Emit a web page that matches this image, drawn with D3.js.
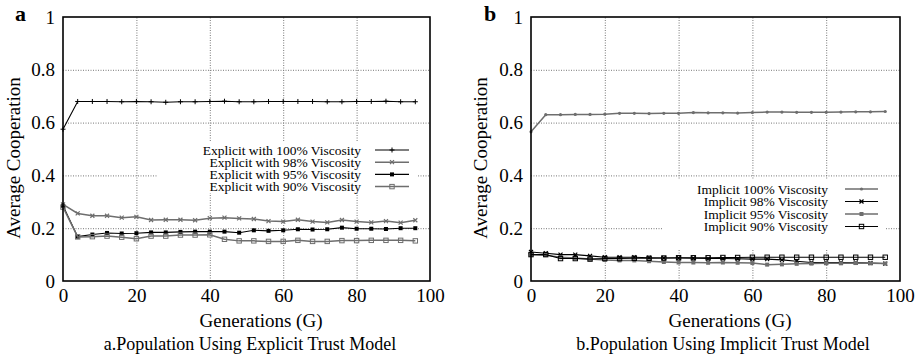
<!DOCTYPE html>
<html>
<head>
<meta charset="utf-8">
<script src="https://cdn.jsdelivr.net/npm/d3@7/dist/d3.min.js"></script>
<style>
  body { margin: 0; background: #fff; }
  svg text { font-family: "Liberation Serif", Tinos, "Times New Roman", Times, "DejaVu Serif", serif; }
</style>
</head>
<body>
<svg id="chart" width="918" height="359"></svg>
<script>
const generations = [0,4,8,12,16,20,24,28,32,36,40,44,48,52,56,60,64,68,72,76,80,84,88,92,96];
const xTicks = [0,20,40,60,80,100];
const yTicks = [0,0.2,0.4,0.6,0.8,1];
const yTickLabels = ["0","0.2","0.4","0.6","0.8","1"];

const explicitNames = ["Explicit with 100% Viscosity","Explicit with 98% Viscosity","Explicit with 95% Viscosity","Explicit with 90% Viscosity"];
const explicit100 = [0.575,0.68,0.68,0.68,0.679,0.68,0.679,0.677,0.679,0.679,0.68,0.681,0.679,0.679,0.68,0.68,0.68,0.68,0.679,0.679,0.68,0.68,0.681,0.679,0.679];
const explicit98 = [0.29,0.256,0.247,0.247,0.24,0.243,0.231,0.232,0.232,0.23,0.238,0.24,0.237,0.235,0.227,0.225,0.232,0.225,0.222,0.231,0.225,0.222,0.227,0.221,0.23];
const explicit95 = [0.285,0.168,0.176,0.182,0.18,0.181,0.184,0.184,0.186,0.187,0.187,0.187,0.183,0.192,0.19,0.192,0.196,0.195,0.196,0.202,0.198,0.198,0.197,0.2,0.2];
const explicit90 = [0.28,0.167,0.168,0.17,0.166,0.16,0.17,0.17,0.174,0.174,0.175,0.158,0.152,0.152,0.15,0.15,0.154,0.15,0.15,0.153,0.153,0.154,0.154,0.154,0.152];

const implicitNames = ["Implicit 100% Viscosity","Implicit 98% Viscosity","Implicit 95% Viscosity","Implicit 90% Viscosity"];
const implicit100 = [0.565,0.63,0.63,0.631,0.631,0.632,0.635,0.635,0.634,0.635,0.635,0.638,0.637,0.637,0.636,0.638,0.64,0.64,0.639,0.639,0.639,0.64,0.641,0.641,0.642];
const implicit98 = [0.11,0.105,0.1,0.1,0.095,0.09,0.09,0.09,0.088,0.087,0.087,0.086,0.085,0.085,0.084,0.083,0.083,0.08,0.075,0.07,0.07,0.07,0.07,0.068,0.066];
const implicit95 = [0.1,0.098,0.09,0.087,0.083,0.08,0.078,0.078,0.075,0.072,0.07,0.07,0.069,0.07,0.069,0.068,0.062,0.063,0.065,0.066,0.067,0.067,0.068,0.067,0.066];
const implicit90 = [0.1,0.1,0.085,0.085,0.083,0.085,0.085,0.086,0.086,0.087,0.088,0.088,0.088,0.089,0.089,0.09,0.09,0.09,0.09,0.09,0.09,0.09,0.09,0.09,0.09];

const BLACK = "#000", GRAY = "#6e6e6e";
const FONT = '"Liberation Serif", Tinos, "Times New Roman", Times, "DejaVu Serif", serif';

const svg = d3.select("#chart");

function marker(g, type, x, y, color) {
  if (type === "plus") {
    g.append("path").attr("d", `M${x-2.5},${y}H${x+2.5}M${x},${y-2.5}V${y+2.5}`)
      .attr("stroke", color).attr("stroke-width", 1);
  } else if (type === "cross") {
    g.append("path").attr("d", `M${x-2},${y-2}L${x+2},${y+2}M${x-2},${y+2}L${x+2},${y-2}`)
      .attr("stroke", color).attr("stroke-width", 1.2);
  } else if (type === "fsquare") {
    g.append("rect").attr("x", x-2).attr("y", y-2).attr("width", 4).attr("height", 4).attr("fill", color);
  } else if (type === "osquare") {
    g.append("rect").attr("x", x-2.2).attr("y", y-2.2).attr("width", 4.4).attr("height", 4.4)
      .attr("fill", "none").attr("stroke", color).attr("stroke-width", 1);
  } else if (type === "dot") {
    g.append("circle").attr("cx", x).attr("cy", y).attr("r", 1.6).attr("fill", color);
  }
}

function drawPanel(cfg) {
  const x = d3.scaleLinear().domain([0, 100]).range([cfg.left, cfg.right]);
  const y = d3.scaleLinear().domain([0, 1]).range([281, 17]);
  const g = svg.append("g");

  // grid
  g.append("g").call(d3.axisBottom(x).tickValues(xTicks.slice(1, -1)).tickSize(-(281 - 17)).tickFormat(""))
    .attr("transform", "translate(0,281)")
    .call(s => s.select(".domain").remove())
    .call(s => s.selectAll("line").attr("stroke", "#777").attr("stroke-dasharray", "1,1.5"));
  g.append("g").call(d3.axisLeft(y).tickValues(yTicks.slice(1, -1)).tickSize(-(cfg.right - cfg.left)).tickFormat(""))
    .attr("transform", `translate(${cfg.left},0)`)
    .call(s => s.select(".domain").remove())
    .call(s => s.selectAll("line").attr("stroke", "#777").attr("stroke-dasharray", "1,1.5"));

  // key box hides the grid behind it
  const L = cfg.legend;
  g.append("rect").attr("x", L.box[0]).attr("y", L.box[1]).attr("width", L.box[2]).attr("height", L.box[3]).attr("fill", "#fff");

  // tick labels
  g.append("g").attr("transform", "translate(0,281)")
    .call(d3.axisBottom(x).tickValues(xTicks).tickSize(0).tickPadding(8))
    .attr("font-family", FONT)
    .call(s => s.select(".domain").remove())
    .call(s => s.selectAll("text").attr("font-size", 19).attr("fill", "#000"));
  g.append("g").attr("transform", `translate(${cfg.left},0)`)
    .call(d3.axisLeft(y).tickValues(yTicks).tickSize(0).tickPadding(8).tickFormat((d, i) => yTickLabels[i]))
    .attr("font-family", FONT)
    .call(s => s.select(".domain").remove())
    .call(s => s.selectAll("text").attr("font-size", 19).attr("fill", "#000"));

  // series
  const line = d3.line().x((d, i) => x(generations[i])).y(d => y(d));
  cfg.series.forEach(s => {
    g.append("path").datum(s.values).attr("d", line).attr("fill", "none")
      .attr("stroke", s.color).attr("stroke-width", s.color === GRAY ? 1.5 : 1.1);
    const mg = g.append("g");
    s.values.forEach((v, i) => marker(mg, s.marker, x(generations[i]), y(v), s.color));
  });

  // key
  cfg.series.forEach((s, i) => {
    const cy = L.rowY0 + i * L.rowStep;
    g.append("text").attr("x", L.textRight).attr("y", cy + 4.5).attr("text-anchor", "end")
      .attr("font-size", 13.5).text(s.name);
    g.append("line").attr("x1", L.lineX1).attr("x2", L.lineX2).attr("y1", cy).attr("y2", cy)
      .attr("stroke", s.color).attr("stroke-width", s.color === GRAY ? 1.5 : 1.1);
    marker(g, s.marker, (L.lineX1 + L.lineX2) / 2, cy, s.color);
  });

  // frame
  g.append("rect").attr("x", cfg.left).attr("y", 17).attr("width", cfg.right - cfg.left).attr("height", 281 - 17)
    .attr("fill", "none").attr("stroke", "#000").attr("stroke-width", 1.6);

  // labels
  g.append("text").attr("x", cfg.xlabelX).attr("y", 327).attr("text-anchor", "middle")
    .attr("font-size", 19).text("Generations (G)");
  g.append("text").attr("x", cfg.captionX).attr("y", 350).attr("text-anchor", "middle")
    .attr("font-size", 18).text(cfg.caption);
  g.append("text").attr("transform", `translate(${cfg.ylabelX},158) rotate(-90)`).attr("text-anchor", "middle")
    .attr("font-size", 19).text("Average Cooperation");
  g.append("text").attr("x", cfg.letterX).attr("y", 21).attr("font-size", 22).attr("font-weight", "bold").text(cfg.letter);
}

drawPanel({
  left: 63, right: 430, letter: "a", letterX: 15, ylabelX: 20, xlabelX: 261, captionX: 250,
  caption: "a.Population Using Explicit Trust Model",
  series: [
    { name: explicitNames[0], values: explicit100, color: BLACK, marker: "plus" },
    { name: explicitNames[1], values: explicit98, color: GRAY, marker: "cross" },
    { name: explicitNames[2], values: explicit95, color: BLACK, marker: "fsquare" },
    { name: explicitNames[3], values: explicit90, color: GRAY, marker: "osquare" }
  ],
  legend: { textRight: 361, lineX1: 375, lineX2: 409, rowY0: 150, rowStep: 12.2, box: [157, 141, 261, 52] }
});

drawPanel({
  left: 531, right: 900, letter: "b", letterX: 484, ylabelX: 487, xlabelX: 730, captionX: 723,
  caption: "b.Population Using Implicit Trust Model",
  series: [
    { name: implicitNames[0], values: implicit100, color: GRAY, marker: "dot" },
    { name: implicitNames[1], values: implicit98, color: BLACK, marker: "cross" },
    { name: implicitNames[2], values: implicit95, color: GRAY, marker: "fsquare" },
    { name: implicitNames[3], values: implicit90, color: BLACK, marker: "osquare" }
  ],
  legend: { textRight: 828, lineX1: 845, lineX2: 878, rowY0: 189, rowStep: 12.5, box: [663, 180, 223, 70] }
});
</script>
</body>
</html>
